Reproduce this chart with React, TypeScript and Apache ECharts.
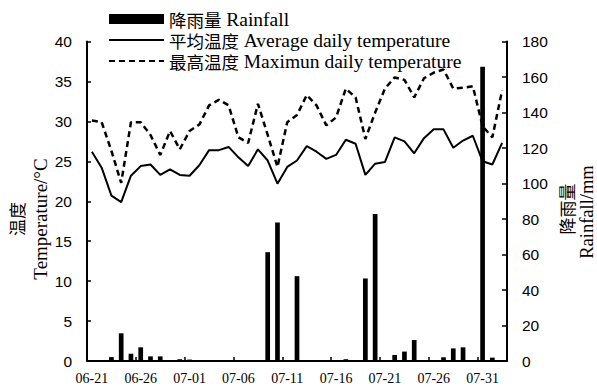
import React, { useEffect, useRef } from "react";
import * as echarts from "echarts";

const dates = [
  "06-21", "06-22", "06-23", "06-24", "06-25", "06-26", "06-27", "06-28", "06-29", "06-30",
  "07-01", "07-02", "07-03", "07-04", "07-05", "07-06", "07-07", "07-08", "07-09", "07-10",
  "07-11", "07-12", "07-13", "07-14", "07-15", "07-16", "07-17", "07-18", "07-19", "07-20",
  "07-21", "07-22", "07-23", "07-24", "07-25", "07-26", "07-27", "07-28", "07-29", "07-30",
  "07-31", "08-01", "08-02",
];

const avgTemp = [
  26.2, 24.2, 20.7, 19.9, 23.2, 24.4, 24.6, 23.3, 24.0, 23.3,
  23.2, 24.5, 26.4, 26.4, 26.8, 25.5, 24.4, 26.5, 25.1, 22.2,
  24.3, 25.1, 26.9, 26.2, 25.3, 25.8, 27.7, 27.2, 23.3, 24.7,
  24.9, 28.0, 27.5, 26.0, 27.9, 29.0, 29.0, 26.7, 27.6, 28.2,
  25.0, 24.6, 27.3,
];

const maxTemp = [
  30.1, 29.9, 26.3, 22.3, 29.9, 29.9, 28.3, 25.8, 28.8, 26.5,
  28.8, 29.6, 32.0, 32.7, 32.0, 28.0, 27.3, 32.2, 28.3, 24.3,
  29.9, 30.8, 33.3, 32.0, 29.5, 30.5, 34.1, 33.0, 27.8, 31.1,
  34.1, 35.5, 35.2, 33.0, 35.4, 36.1, 36.5, 34.1, 34.2, 34.4,
  29.4, 28.0, 33.9,
];

const rainfall = [
  0, 0, 2.2, 15.6, 4.1, 7.7, 2.6, 2.6, 0, 1.0,
  0.8, 0, 0, 0, 0, 0, 0, 0, 61.3, 78.0,
  0, 47.8, 0, 0, 0, 0, 1.0, 0, 46.5, 82.8,
  0, 3.4, 5.3, 11.8, 0, 0, 2.1, 7.1, 7.7, 0,
  165.8, 1.9, 0,
];

const seriesNames = {
  rain: "降雨量 Rainfall",
  avg: "平均温度 Average daily temperature",
  max: "最高温度 Maximun daily temperature",
};

const SERIF = "'Liberation Serif', 'Times New Roman', 'Noto Sans CJK SC', serif";
const SANS = "'Liberation Sans', Arial, sans-serif";
const CJK = "'Noto Sans CJK SC', sans-serif";

export default function App() {
  const ref = useRef<HTMLDivElement>(null);

  useEffect(() => {
    if (!ref.current) return;
    const chart = echarts.init(ref.current, null, { renderer: "svg" });

    const fmtLegend = (name: string) => {
      const idx = name.indexOf(" ");
      return `{cn|${name.slice(0, idx)}} {en|${name.slice(idx + 1)}}`;
    };

    const hiddenSymbol = { opacity: 0, color: "rgba(0,0,0,0)", borderWidth: 0 };

    chart.setOption({
      animation: false,
      backgroundColor: "#fff",
      grid: { left: 87, right: 90, top: 41.5, bottom: 31, containLabel: false },
      legend: {
        orient: "vertical",
        left: 108,
        top: 8.5,
        padding: 0,
        itemGap: 0,
        itemWidth: 55,
        itemHeight: 10,
        data: [
          { name: seriesNames.rain, icon: "rect" },
          { name: seriesNames.avg, itemStyle: hiddenSymbol },
          { name: seriesNames.max, itemStyle: hiddenSymbol },
        ],
        formatter: fmtLegend,
        textStyle: {
          color: "#000",
          fontFamily: SERIF,
          fontSize: 19,
          lineHeight: 21,
          rich: {
            cn: { fontFamily: CJK, fontSize: 17.5, color: "#000", lineHeight: 21 },
            en: { fontFamily: SERIF, fontSize: 19.5, color: "#000", lineHeight: 21 },
          },
        },
      },
      xAxis: {
        type: "category",
        data: dates,
        boundaryGap: true,
        axisLine: { show: true, lineStyle: { color: "#000", width: 2 } },
        axisTick: {
          show: true,
          interval: 4,
          inside: true,
          length: 4,
          lineStyle: { color: "#000", width: 1.5 },
        },
        axisLabel: {
          interval: 4,
          color: "#000",
          fontFamily: SERIF,
          fontSize: 14,
          margin: 10,
        },
        splitLine: { show: false },
      },
      yAxis: [
        {
          type: "value",
          position: "left",
          min: 0,
          max: 40,
          interval: 5,
          axisLine: { show: true, lineStyle: { color: "#000", width: 2 } },
          axisTick: { show: true, inside: true, length: 4, lineStyle: { color: "#000", width: 1.5 } },
          axisLabel: { color: "#000", fontFamily: SANS, fontSize: 15.5, margin: 15 },
          splitLine: { show: false },
        },
        {
          type: "value",
          position: "right",
          min: 0,
          max: 180,
          interval: 20,
          axisLine: { show: true, lineStyle: { color: "#000", width: 2 } },
          axisTick: { show: true, inside: true, length: 5, lineStyle: { color: "#000", width: 1.5 } },
          axisLabel: { color: "#000", fontFamily: SANS, fontSize: 15.5, margin: 15 },
          splitLine: { show: false },
        },
      ],
      series: [
        {
          name: seriesNames.avg,
          type: "line",
          data: avgTemp,
          yAxisIndex: 0,
          symbol: "none",
          showSymbol: false,
          lineStyle: { color: "#000", width: 2 },
          itemStyle: { color: "#000" },
          z: 2,
        },
        {
          name: seriesNames.max,
          type: "line",
          data: maxTemp,
          yAxisIndex: 0,
          symbol: "none",
          showSymbol: false,
          lineStyle: { color: "#000", width: 2.5, type: [6, 4] },
          itemStyle: { color: "#000" },
          z: 2,
        },
        {
          name: seriesNames.rain,
          type: "bar",
          data: rainfall,
          yAxisIndex: 1,
          barWidth: 4.7,
          itemStyle: { color: "#000" },
          z: 3,
        },
      ],
      graphic: [
        {
          type: "text",
          x: 16,
          y: 219,
          rotation: Math.PI / 2,
          style: {
            text: "温度",
            font: `17px ${CJK}`,
            fill: "#000",
            align: "center",
            verticalAlign: "middle",
          },
        },
        {
          type: "text",
          x: 40,
          y: 219,
          rotation: Math.PI / 2,
          style: {
            text: "Temperature/°C",
            font: `19px ${SERIF}`,
            fill: "#000",
            align: "center",
            verticalAlign: "middle",
          },
        },
        {
          type: "text",
          x: 566,
          y: 209,
          rotation: Math.PI / 2,
          style: {
            text: "降雨量",
            font: `17px ${CJK}`,
            fill: "#000",
            align: "center",
            verticalAlign: "middle",
          },
        },
        {
          type: "text",
          x: 586.5,
          y: 212,
          rotation: Math.PI / 2,
          style: {
            text: "Rainfall/mm",
            font: `18.5px ${SERIF}`,
            fill: "#000",
            align: "center",
            verticalAlign: "middle",
          },
        },
      ],
    });

    return () => {
      chart.dispose();
    };
  }, []);

  return (
    <div
      ref={ref}
      style={{ position: "fixed", left: 0, top: 0, width: 597, height: 392, background: "#fff" }}
    />
  );
}
